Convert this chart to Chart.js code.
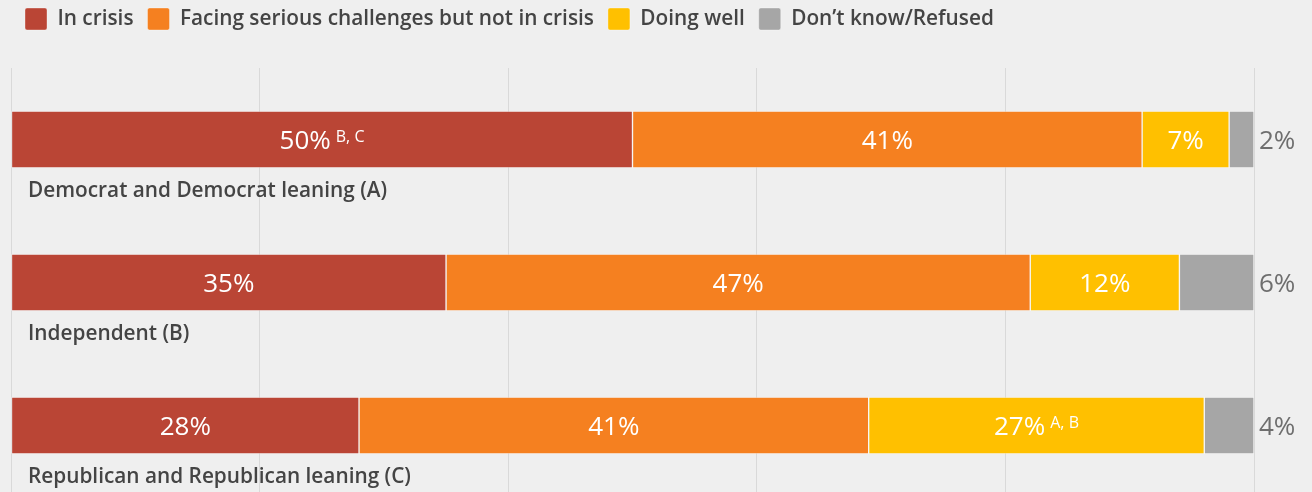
<!DOCTYPE html>
<html>
<head>
<meta charset="utf-8">
<script src="https://cdn.jsdelivr.net/npm/chart.js@4"></script>
<style>
  html, body { margin: 0; padding: 0; background: #efefef; overflow: hidden; }
  body { width: 1312px; height: 492px; }
  #wrap { width: 1312px; height: 500px; }
</style>
</head>
<body>
<div id="wrap"><canvas id="chart"></canvas></div>
<script>
const categories = ['Democrat and Democrat leaning (A)', 'Independent (B)', 'Republican and Republican leaning (C)'];
const inCrisis = [50, 35, 28];
const challenges = [41, 47, 41];
const doingWell = [7, 12, 27];
const dontKnow = [2, 6, 4];
// significance letters shown as superscripts
const inCrisisSup = ['B, C', '', ''];
const challengesSup = ['', '', ''];
const doingWellSup = ['', '', 'A, B'];
const dontKnowSup = ['', '', ''];
const xTicks = [0, 20, 40, 60, 80, 100];

const FONT = '"Open Sans", Lato, sans-serif';

const data = {
    labels: categories,
    datasets: [
        { label: 'In crisis', data: inCrisis, sup: inCrisisSup, backgroundColor: '#BA4535' },
        { label: 'Facing serious challenges but not in crisis', data: challenges, sup: challengesSup, backgroundColor: '#F58020' },
        { label: 'Doing well', data: doingWell, sup: doingWellSup, backgroundColor: '#FFC000' },
        { label: 'Don\u2019t know/Refused', data: dontKnow, sup: dontKnowSup, backgroundColor: '#A6A6A6', outside: true }
    ]
};
data.datasets.forEach(function (ds) {
    ds.borderColor = 'rgba(255,255,255,0.35)';
    ds.borderWidth = 1;
    ds.borderSkipped = false;
    ds.barThickness = 57;
});

// value labels inside the segments (outside for the last one) + category names under bars
const barLabels = {
    id: 'barLabels',
    afterDatasetsDraw(chart) {
        const ctx = chart.ctx;
        ctx.save();
        ctx.textBaseline = 'alphabetic';
        ctx.textAlign = 'left';
        chart.data.datasets.forEach(function (ds, di) {
            const meta = chart.getDatasetMeta(di);
            meta.data.forEach(function (bar, i) {
                const main = ds.data[i] + '%';
                const sup = ds.sup[i];
                ctx.font = '400 26px ' + FONT;
                const w1 = ctx.measureText(main).width;
                ctx.font = '400 16px ' + FONT;
                const w2 = sup ? ctx.measureText(sup).width + 5 : 0;
                let x0;
                if (ds.outside) {
                    x0 = bar.x + 5;
                    ctx.fillStyle = '#6e6e6e';
                } else {
                    x0 = (bar.base + bar.x) / 2 - (w1 + w2) / 2;
                    ctx.fillStyle = '#ffffff';
                }
                ctx.font = '400 26px ' + FONT;
                ctx.fillText(main, x0, bar.y + 9.5);
                if (sup) {
                    ctx.font = '400 16px ' + FONT;
                    ctx.fillText(sup, x0 + w1 + 5, bar.y + 2);
                }
            });
        });
        const meta0 = chart.getDatasetMeta(0);
        ctx.fillStyle = '#444444';
        ctx.font = '600 20.8px ' + FONT;
        meta0.data.forEach(function (bar, i) {
            ctx.fillText(chart.data.labels[i], 28, bar.y + bar.height / 2 + 29);
        });
        ctx.restore();
    }
};

const config = {
    type: 'bar',
    data: data,
    options: {
        indexAxis: 'y',
        responsive: true,
        maintainAspectRatio: false,
        animation: false,
        layout: {
            padding: { left: 11, right: 58, top: -6, bottom: 3 }
        },
        plugins: {
            legend: {
                position: 'top',
                align: 'start',
                labels: {
                    color: '#444444',
                    boxWidth: 22,
                    boxHeight: 22,
                    padding: 14,
                    useBorderRadius: true,
                    borderRadius: 2,
                    font: { family: FONT, size: 20.8, weight: '600' }
                }
            },
            tooltip: { enabled: false }
        },
        scales: {
            x: {
                position: 'top',
                stacked: true,
                min: 0,
                max: 100,
                afterBuildTicks: function (axis) {
                    axis.ticks = xTicks.map(function (v) { return { value: v }; });
                },
                afterFit: function (axis) { axis.height = 28; },
                ticks: { display: false },
                border: { display: false },
                grid: { color: '#d9d9d9', drawTicks: false, lineWidth: 1 }
            },
            y: {
                stacked: true,
                display: false
            }
        }
    },
    plugins: [barLabels]
};

var myChart = new Chart(document.getElementById('chart'), config);
</script>
</body>
</html>
